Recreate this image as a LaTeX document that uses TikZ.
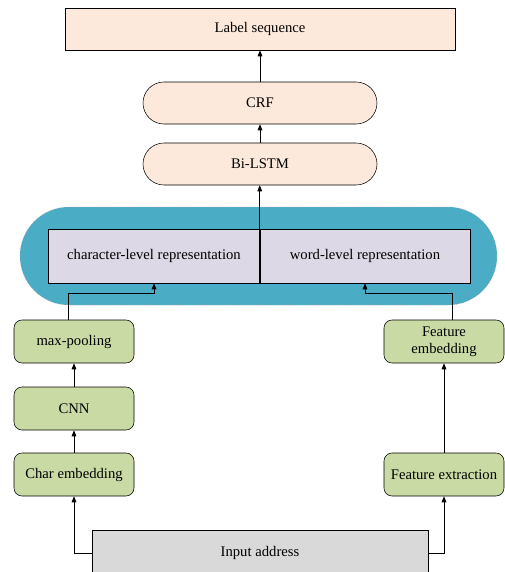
\documentclass[tikz,border=0pt]{standalone}
\usepackage{fontspec}
\setmainfont{Liberation Serif}
\definecolor{peach}{RGB}{252, 233, 219}
\definecolor{leafgreen}{RGB}{201, 218, 165}
\definecolor{lavender}{RGB}{221, 216, 230}
\definecolor{tealblue}{RGB}{75, 172, 198}
\definecolor{boxgray}{RGB}{217, 217, 217}
\usetikzlibrary{arrows.meta, positioning, calc}
\tikzset{
  arr/.style={-{Triangle[length=4.5pt, width=3.5pt]}, semithick},
  outbox/.style={draw, thin, fill=peach, minimum width=175.5pt, minimum height=31.5pt, rounded corners=15.7pt},
  sidebox/.style={draw, thin, fill=leafgreen, minimum width=90pt, minimum height=32.25pt, rounded corners=6pt, align=center, inner sep=1pt},
  repbox/.style={draw, thin, fill=lavender, minimum height=40.5pt}
}

\begin{document}
\begin{tikzpicture}[x=0.75pt, y=-0.75pt, font=\fontsize{11}{12.5}\selectfont]
  \useasboundingbox (0,0) rectangle (505,572);

  % Output layers
  \node[draw, thin, fill=peach, minimum width=292.5pt, minimum height=31.5pt] (label) at (260, 29) {Label sequence};
  \node[outbox] (crf) at (260, 103) {CRF};
  \node[outbox] (bilstm) at (260, 164) {Bi-LSTM};

  % Joint representation
  \node[draw=gray!70, densely dotted, fill=tealblue, minimum width=357.75pt, minimum height=73.5pt, rounded corners=36.7pt] (joint) at (258.5, 256) {};
  \node[repbox, minimum width=159pt] (charrep) at (154, 256) {character-level representation};
  \node[repbox, minimum width=157.5pt] (wordrep) at (365, 256) {word-level representation};

  % Character branch
  \node[sidebox] (pool) at (74, 341.5) {max-pooling};
  \node[sidebox] (cnn) at (74, 408.5) {CNN};
  \node[sidebox] (charemb) at (74, 474.5) {Char embedding};

  % Feature branch
  \node[sidebox] (featemb) at (444, 341.5) {Feature\\embedding};
  \node[sidebox] (featext) at (444, 474.5) {Feature extraction};

  % Input
  \node[draw, thin, fill=boxgray, minimum width=252pt, minimum height=34.5pt] (input) at (260, 553) {Input address};

  % Arrows
  \coordinate (join) at (0, 293);
  \draw[arr] (input.west) -| (charemb.south);
  \draw[arr] (input.east) -| (featext.south);
  \draw[arr] (charemb) -- (cnn);
  \draw[arr] (cnn) -- (pool);
  \draw[arr] (featext) -- (featemb);
  \draw[arr] ([xshift=-4.5pt]pool.north) |- (charrep.south |- join) -- (charrep.south);
  \draw[arr] ([xshift=6pt]featemb.north) |- (wordrep.south |- join) -- (wordrep.south);
  \draw[arr] (wordrep.south west) -- (wordrep.south west |- bilstm.south);
  \draw[arr] (bilstm) -- (crf);
  \draw[arr] (crf) -- (label);
\end{tikzpicture}
\end{document}
